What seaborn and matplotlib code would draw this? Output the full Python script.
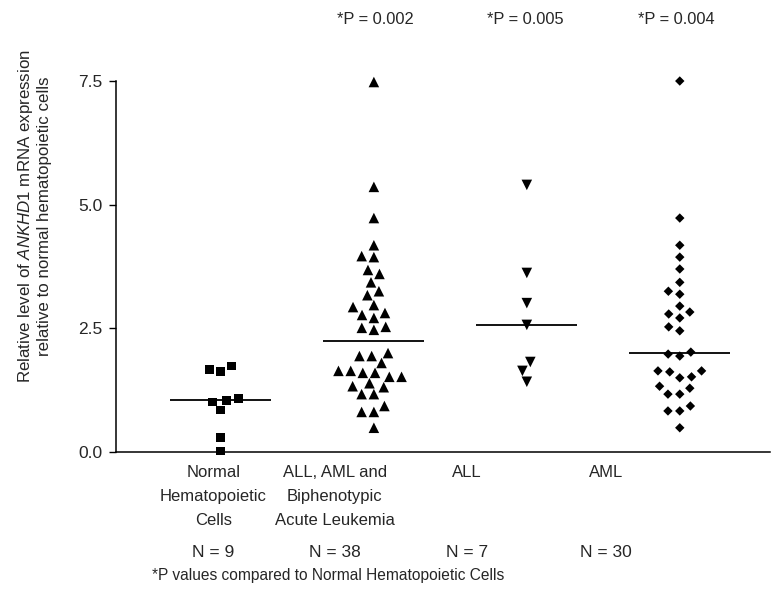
import numpy as np
import pandas as pd
import matplotlib
matplotlib.use("Agg")
import matplotlib.pyplot as plt
import seaborn as sns

# values
normal = [1.74, 1.62, 1.66, 1.05, 1.09, 1.01, 0.85, 0.30, 0.02]
all_aml_bal = [7.48, 5.36, 4.73, 4.18, 3.94, 3.96, 3.68, 3.60, 3.43, 3.25,
               3.17, 2.93, 2.97, 2.77, 2.81, 2.71, 2.53, 2.47, 2.51, 1.94,
               1.94, 2.00, 1.80, 1.60, 1.52, 1.64, 1.64, 1.52, 1.60, 1.31,
               1.39, 1.33, 1.17, 1.17, 0.81, 0.81, 0.93, 0.49]
all_only = [5.40, 3.62, 3.01, 2.57, 1.82, 1.64, 1.42]
aml_only = [7.50, 4.73, 4.18, 3.94, 3.70, 3.43, 3.19, 3.25, 2.95, 2.83,
            2.79, 2.71, 2.53, 2.45, 2.02, 1.94, 1.98, 1.64, 1.52, 1.50,
            1.62, 1.64, 1.29, 1.17, 1.17, 1.33, 0.83, 0.83, 0.93, 0.49]

groups = ["normal", "all_aml", "all", "aml"]
group_labels = ["Normal\nHematopoietic\nCells",
                "ALL, AML and\nBiphenotypic\nAcute Leukemia",
                "ALL", "AML"]
n_labels = ["N = 9", "N = 38", "N = 7", "N = 30"]
p_labels = ["*P = 0.002", "*P = 0.005", "*P = 0.004"]
yticks = [0.0, 2.5, 5.0, 7.5]

df = pd.DataFrame({
    "group": (["normal"] * len(normal) + ["all_aml"] * len(all_aml_bal)
              + ["all"] * len(all_only) + ["aml"] * len(aml_only)),
    "value": normal + all_aml_bal + all_only + aml_only,
})

sns.set_style("ticks")
plt.rcParams["font.family"] = ["Liberation Sans", "DejaVu Sans"]
plt.rcParams["mathtext.fontset"] = "custom"
plt.rcParams["mathtext.it"] = "Liberation Sans:italic"
plt.rcParams["mathtext.rm"] = "Liberation Sans"

fig = plt.figure(figsize=(7.77, 6.06), dpi=100)
ax = fig.add_axes([0.1493, 0.2541, 0.8417, 0.6122])

# marker style per group: (marker, size, padding used by the swarm layout)
styles = {
    "normal": ("s", 6.4, 1.8),
    "all_aml": ("^", 7.6, 0.8),
    "all": ("v", 7.6, 0.8),
    "aml": ("D", 4.8, 3.3),
}
for g in groups:
    marker, size, pad = styles[g]
    sns.swarmplot(data=df[df["group"] == g], x="group", y="value", order=groups,
                  marker=marker, size=size, color="black", linewidth=pad,
                  edgecolor="none", ax=ax)

# median bars
sns.boxplot(data=df, x="group", y="value", order=groups, width=0.66,
            showbox=False, showcaps=False, showfliers=False,
            whiskerprops={"visible": False},
            medianprops={"color": "black", "linewidth": 1.3}, ax=ax)

for c in ax.collections:
    if len(c.get_offsets()) > 0:
        c.set_clip_on(False)

ax.set_ylim(0, 7.5)
ax.set_xlim(-0.686, 3.59)
ax.set_yticks(yticks)
ax.set_yticklabels([f"{v:.1f}" for v in yticks], fontsize=12.5)
ax.set_xticks([])
ax.set_xlabel("")
ax.tick_params(axis="y", length=5, width=1, pad=5, color="black")
sns.despine(ax=ax)
for s in ["left", "bottom"]:
    ax.spines[s].set_color("black")
    ax.spines[s].set_linewidth(1.1)

ax.set_ylabel("Relative level of $\\it{ANKHD1}$ mRNA expression\n"
              "relative to normal hematopoietic cells", fontsize=12.2,
              linespacing=1.2)
ax.yaxis.set_label_coords(-0.098, 0.636)

xt = ax.get_xaxis_transform()
label_x = [-0.05, 0.745, 1.61, 2.52]
for x, lab, n in zip(label_x, group_labels, n_labels):
    ax.text(x, -0.035, lab, transform=xt, ha="center", va="top",
            fontsize=12, linespacing=1.75)
    ax.text(x, -0.27, n, transform=xt, ha="center", va="center", fontsize=12.5)

for x, p in zip([1.01, 1.99, 2.98], p_labels):
    ax.text(x, 1.165, p, transform=xt, ha="center", va="center", fontsize=11.8)

fig.text(0.196, 0.051, "*P values compared to Normal Hematopoietic Cells",
         ha="left", va="center", fontsize=11.2)

fig.savefig("out.png", dpi=100)
